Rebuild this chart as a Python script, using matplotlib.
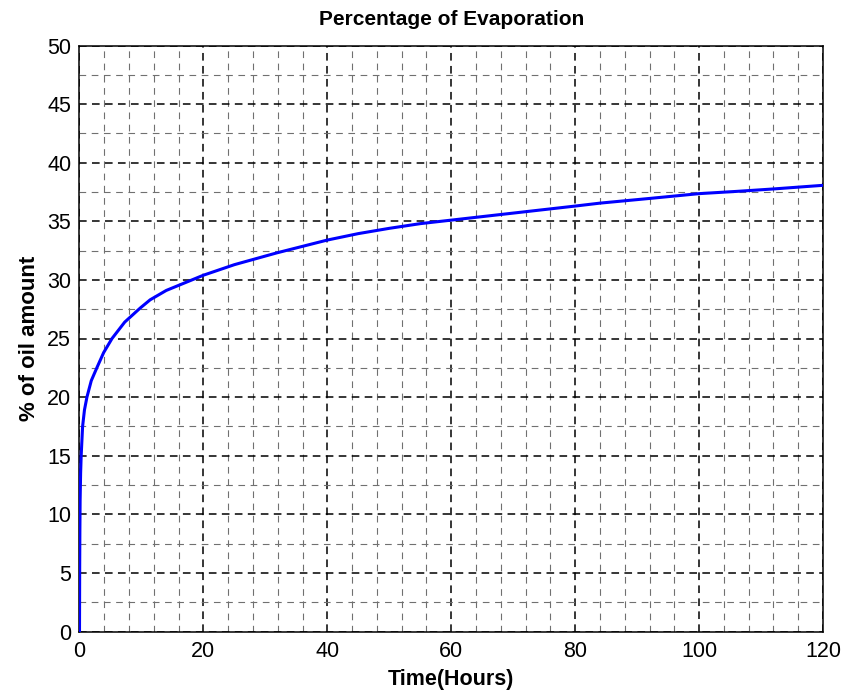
import matplotlib
matplotlib.use("Agg")
import matplotlib.pyplot as plt
from matplotlib.ticker import MultipleLocator

# Data
time_hours = [0, 0.03, 0.06, 0.1, 0.18, 0.27, 0.5, 0.8, 1.2, 1.9, 2.8, 3.9, 5.25,
              7.3, 9.8, 11.4, 14.0, 20.0, 25.0, 31.8, 40, 45.0, 50.0, 55.0, 60,
              65.0, 70.0, 75.0, 80, 84, 92, 100, 106, 112, 120]
evap_pct = [0, 5.5, 8.5, 11.2, 13.5, 15.0, 17.5, 18.9, 20.0, 21.4, 22.5, 23.8, 25.0,
            26.4, 27.6, 28.3, 29.1, 30.4, 31.3, 32.3, 33.4, 33.95, 34.4, 34.8, 35.1,
            35.4, 35.7, 36.0, 36.3, 36.55, 36.95, 37.36, 37.55, 37.76, 38.07]

x_ticks = [0, 20, 40, 60, 80, 100, 120]
y_ticks = [0, 5, 10, 15, 20, 25, 30, 35, 40, 45, 50]

title = "Percentage of Evaporation"
xlabel = "Time(Hours)"
ylabel = "% of oil amount"

plt.rcParams['font.family'] = ['Liberation Sans', 'DejaVu Sans']

fig = plt.figure(figsize=(8.45, 6.95), dpi=100)
ax = fig.add_axes([79.5/845, (695-631.5)/695, (823-79.5)/845, (631.5-45.5)/695])

ax.plot(time_hours, evap_pct, color='#0000ff', linewidth=2.2, zorder=3)

ax.set_xlim(0, 120)
ax.set_ylim(0, 50)
ax.set_xticks(x_ticks)
ax.set_yticks(y_ticks)
ax.xaxis.set_minor_locator(MultipleLocator(4))
ax.yaxis.set_minor_locator(MultipleLocator(2.5))

ax.grid(True, which='major', color='black', linewidth=1.1, linestyle=(0, (5, 3.5)))
ax.grid(True, which='minor', color='#707070', linewidth=0.8, linestyle=(0, (6, 5)))
ax.set_axisbelow(True)

ax.tick_params(which='both', length=0, labelsize=15.5)
ax.tick_params(axis='x', pad=7)
ax.tick_params(axis='y', pad=6)

for s in ax.spines.values():
    s.set_color('black')
    s.set_linewidth(1.1)

ax.set_title(title, fontsize=15, fontweight='bold', pad=15)
ax.set_xlabel(xlabel, fontsize=15.5, fontweight='bold', labelpad=5)
ax.set_ylabel(ylabel, fontsize=16, fontweight='bold', labelpad=5)

fig.savefig("out.png", dpi=100)
